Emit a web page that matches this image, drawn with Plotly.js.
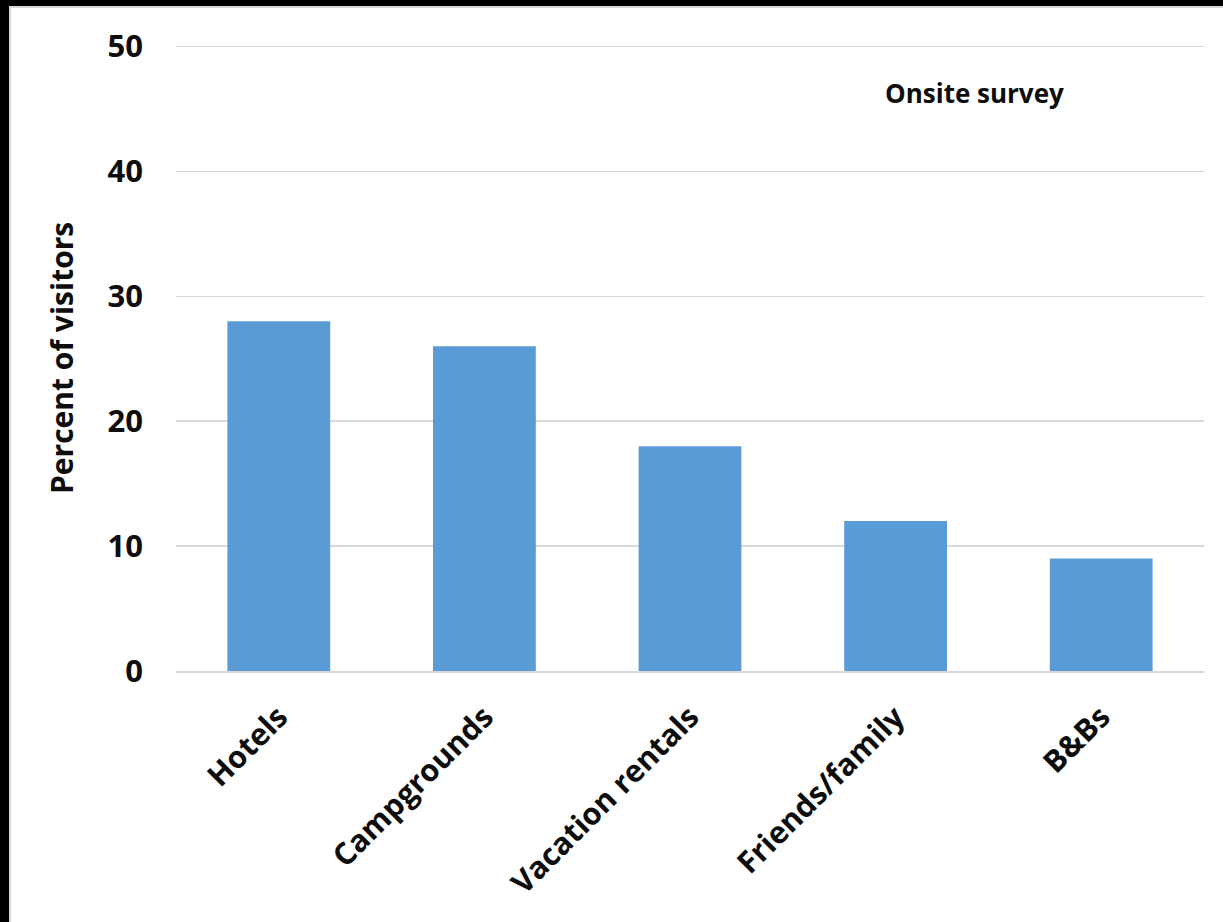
<!DOCTYPE html>
<html>
<head>
<meta charset="utf-8">
<script src="https://cdn.plot.ly/plotly-3.0.1.min.js"></script>
<style>
  html, body { margin: 0; padding: 0; background: #000; width: 1223px; height: 922px; overflow: hidden; }
  #frame { position: absolute; left: 9px; top: 6px; width: 1212px; height: 914px; background: #fff;
           border-left: 2px solid #d9d9d9; border-top: 2px solid #d9d9d9; }
  #chart { width: 1212px; height: 914px; }
</style>
</head>
<body>
<div id="frame"><div id="chart"></div></div>
<script>
const categories = ["Hotels", "Campgrounds", "Vacation rentals", "Friends/family", "B&Bs"];
const percentVisitors = [28, 26, 18, 12, 9];
const yTickValues = [0, 10, 20, 30, 40, 50];
const yAxisTitle = "Percent of visitors";
const noteText = "Onsite survey";

const fontFam = "'Open Sans', 'DejaVu Sans', sans-serif";

const trace = {
  type: "bar",
  x: categories,
  y: percentVisitors,
  marker: { color: "#5B9BD5", line: { width: 0 } },
  hoverinfo: "x+y"
};

const layout = {
  width: 1212,
  height: 914,
  margin: { l: 165, r: 19, t: 37, b: 251 },
  paper_bgcolor: "#ffffff",
  plot_bgcolor: "#ffffff",
  showlegend: false,
  bargap: 0.5,
  font: { family: fontFam, color: "#0d0d0d" },
  xaxis: {
    type: "category",
    tickangle: -45,
    tickfont: { family: fontFam, size: 30.5, color: "#0d0d0d", weight: "bold" },
    showgrid: false,
    showline: true,
    linecolor: "#d9d9d9",
    linewidth: 2,
    ticks: "",
    ticklabelstandoff: 14,
    automargin: false
  },
  yaxis: {
    range: [0, 50.12],
    tickvals: yTickValues,
    ticktext: yTickValues.map(String),
    tickfont: { family: fontFam, size: 31, color: "#0d0d0d", weight: "bold" },
    showgrid: true,
    gridcolor: "#d9d9d9",
    gridwidth: 1.5,
    zeroline: false,
    showline: false,
    ticks: "",
    ticklabelstandoff: 32,
    automargin: false
  },
  annotations: [
    {
      text: yAxisTitle,
      xref: "paper", yref: "paper",
      x: (61 - 176) / 1028, y: 0.5,
      xanchor: "center", yanchor: "middle",
      textangle: -90,
      showarrow: false,
      font: { family: fontFam, size: 30, color: "#0d0d0d", weight: "bold" }
    },
    {
      text: noteText,
      xref: "paper", yref: "paper",
      x: (974 - 176) / 1028, y: (671 - 93) / 626,
      xanchor: "center", yanchor: "middle",
      showarrow: false,
      font: { family: fontFam, size: 26, color: "#0d0d0d", weight: "bold" }
    }
  ]
};

Plotly.newPlot("chart", [trace], layout, { displayModeBar: false, staticPlot: true });
</script>
</body>
</html>
